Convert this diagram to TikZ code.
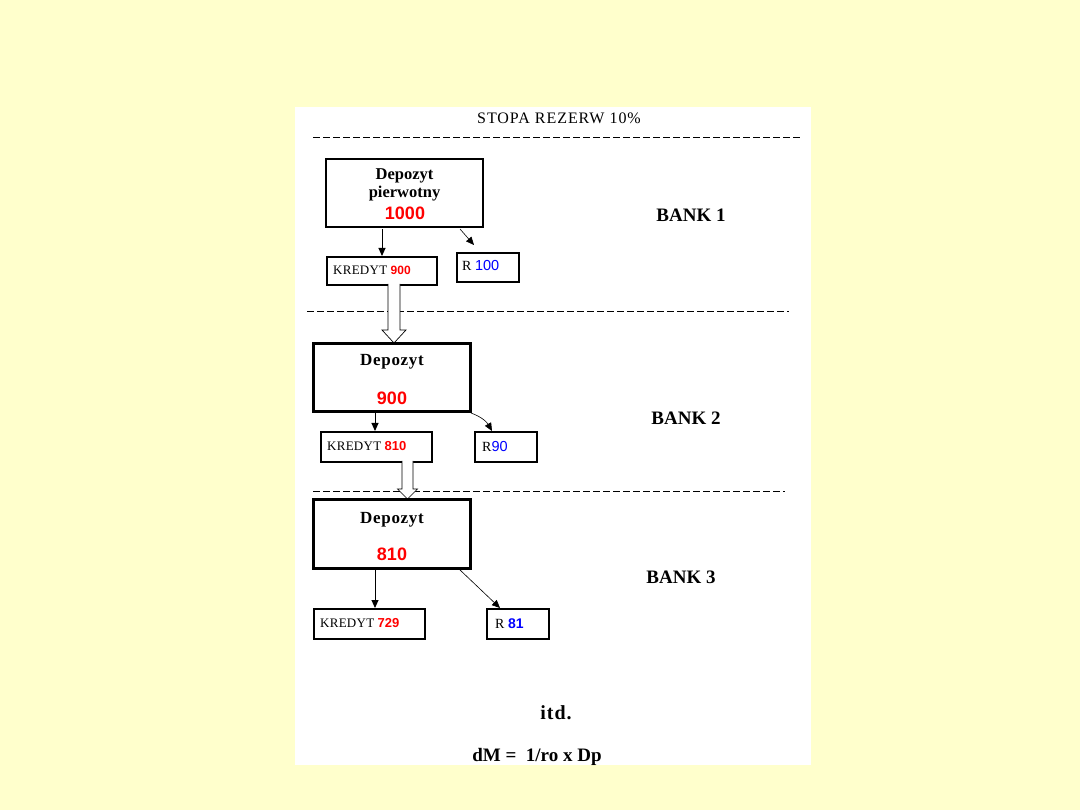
\documentclass[tikz,border=0pt]{standalone}
\usepackage{fontspec}
\setmainfont{Liberation Serif}
\setsansfont{Liberation Sans}
\usetikzlibrary{calc,arrows.meta}
\definecolor{bgyellow}{HTML}{FFFFCC}
\definecolor{numred}{HTML}{FF0000}
\definecolor{numblue}{HTML}{0000FF}
\newcommand{\fs}[1]{\fontsize{#1}{#1}\selectfont}
\tikzset{
  depbox/.style={draw, line width=2.6pt, minimum width=157pt, minimum height=68pt, inner sep=0pt},
  deptext/.style={font=\bfseries\fs{17}\addfontfeature{LetterSpace=4}, inner sep=0pt},
  depnum/.style={font=\sffamily\bfseries\fs{18}, text=numred, inner sep=0pt},
  smallbox/.style={draw, line width=1.7pt, minimum height=28pt, inner sep=0pt, anchor=north west},
  kredyt/.style={anchor=west, inner sep=0pt, font=\fs{13}\addfontfeature{LetterSpace=2}},
  rtext/.style={anchor=west, inner sep=0pt, font=\fs{14}},
  bank/.style={font=\bfseries\fs{19}},
  sepline/.style={line width=0.9pt, dash pattern=on 7pt off 3pt},
  thinarrow/.style={line width=0.9pt, -{Triangle[length=8pt,width=7pt]}},
  blockarrow/.style={draw, line width=0.7pt, fill=white}
}
\begin{document}
\begin{tikzpicture}[x=1pt,y=-1pt]
\fill[bgyellow] (0,0) rectangle (1080,810);
\useasboundingbox (0,0) rectangle (1080,810);
\fill[white] (295,107) rectangle (811,765);

\node[font=\fs{16}\addfontfeature{LetterSpace=6}] (title) at (559,118) {STOPA REZERW 10\%};
\draw[sepline] (313,137) -- (800,137);
\draw[sepline] (307,311) -- (789,311);
\draw[sepline] (313,491) -- (785,491);

% Bank 1
\node[depbox] (d1) at (404.5,193) {};
\node[font=\bfseries\fs{16.5}, inner sep=0pt] (d1t) at (404.5,176) {Depozyt};
\node[font=\bfseries\fs{16.5}, inner sep=0pt] (d1u) at (404.5,194) {pierwotny};
\node[depnum] (d1n) at (405,213) {1000};
\node[bank] (b1) at (691,215) {BANK 1};
\node[smallbox, minimum width=110pt] (k1) at (326,256) {};
\node[kredyt] (k1t) at (333,270) {KREDYT {\sffamily\bfseries\color{numred}\fs{12}\addfontfeature{LetterSpace=0} 900}};
\node[smallbox, minimum width=62pt, minimum height=29pt] (r1) at (456,252) {};
\node[rtext] (r1t) at (462,266) {R {\sffamily\color{numblue}\fs{14.5}100}};
\coordinate (d1a) at (382,229);
\coordinate (k1a) at (382,256);
\draw[thinarrow] (d1a) -- (k1a);
\coordinate (d1b) at (460,229);
\coordinate (r1a) at (474,245);
\draw[thinarrow, line width=0.6pt] (d1b) -- (r1a);

% block arrow 1
\coordinate (ba1s) at (394,284);
\draw[blockarrow] ($(ba1s)+(-6,0)$) -- ($(ba1s)+(-6,46)$) -- ($(ba1s)+(-12,46)$) -- ($(ba1s)+(0,59)$) -- ($(ba1s)+(12,46)$) -- ($(ba1s)+(6,46)$) -- ($(ba1s)+(6,0)$);

% Bank 2
\node[depbox] (d2) at (392,377.5) {};
\node[deptext] (d2t) at (392,362) {Depozyt};
\node[depnum] (d2n) at (392,398) {900};
\node[bank] (b2) at (686,418) {BANK 2};
\node[smallbox, minimum width=111pt, minimum height=30pt] (k2) at (320,431) {};
\node[kredyt] (k2t) at (327,446) {KREDYT {\sffamily\bfseries\color{numred}\fs{13}\addfontfeature{LetterSpace=0}810}};
\node[smallbox, minimum width=62pt, minimum height=30pt] (r2) at (474,431) {};
\node[rtext] (r2t) at (482,447) {R{\sffamily\color{numblue}\fs{14.5}90}};
\coordinate (d2a) at (375,412);
\coordinate (k2a) at (375,431);
\draw[thinarrow] (d2a) -- (k2a);
\coordinate (d2b) at (471,413);
\coordinate (r2a) at (492,431);
\draw[thinarrow, line width=0.6pt] (d2b) to[out=-20,in=120] (r2a);

% block arrow 2
\coordinate (ba2s) at (407.5,461);
\draw[blockarrow] ($(ba2s)+(-5.5,0)$) -- ($(ba2s)+(-5.5,28)$) -- ($(ba2s)+(-10,28)$) -- ($(ba2s)+(0,38)$) -- ($(ba2s)+(10,28)$) -- ($(ba2s)+(5.5,28)$) -- ($(ba2s)+(5.5,0)$);

% Bank 3
\node[depbox, minimum height=69pt] (d3) at (392,534) {};
\node[deptext] (d3t) at (392,520) {Depozyt};
\node[depnum] (d3n) at (392,554) {810};
\node[bank] (b3) at (681,577) {BANK 3};
\node[smallbox, minimum width=111pt, minimum height=30pt] (k3) at (313,608) {};
\node[kredyt] (k3t) at (320,623) {KREDYT {\sffamily\bfseries\color{numred}\fs{13}\addfontfeature{LetterSpace=0}729}};
\node[smallbox, minimum width=62pt, minimum height=30pt] (r3) at (486,608) {};
\node[rtext] (r3t) at (495,624) {R {\sffamily\bfseries\color{numblue}\fs{14}81}};
\coordinate (d3a) at (375,569);
\coordinate (k3a) at (375,608);
\draw[thinarrow] (d3a) -- (k3a);
\coordinate (d3b) at (459,569);
\coordinate (r3a) at (500,608);
\draw[thinarrow, line width=0.6pt] (d3b) -- (r3a);

\node[font=\bfseries\fs{20}\addfontfeature{LetterSpace=5}] (itd) at (556,713) {itd.};
\node[font=\bfseries\fs{19}] (dm) at (537,757) {dM =\ \ 1/ro x Dp};
\end{tikzpicture}
\end{document}
